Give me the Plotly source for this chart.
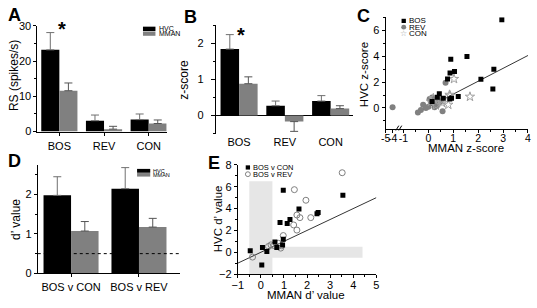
import plotly.graph_objects as go

W, H = 537, 308
FONT = "Liberation Sans, Arial, sans-serif"
BLACK = "#000000"
GRAY = "#808080"
ERRC = "#707070"

# ---------------- data ----------------
# Panel A
a_cats = ["BOS", "REV", "CON"]
a_hvc = [23.2, 3.1, 3.4]
a_hvc_err = [4.9, 1.6, 1.6]
a_mman = [11.6, 0.7, 2.3]
a_mman_err = [2.2, 0.8, 1.0]

# Panel B
b_cats = ["BOS", "REV", "CON"]
b_hvc = [1.84, 0.27, 0.40]
b_hvc_err = [0.40, 0.13, 0.15]
b_mman = [0.88, -0.17, 0.19]
b_mman_err = [0.19, 0.27, 0.08]

# Panel C
c_bos_x = [2.95, 1.55, 0.90, 2.63, 1.05, 0.87, 0.77, 2.11, 2.59, 0.44, 1.20, 0.93, 0.86, 0.36, 0.60, 0.15]
c_bos_y = [6.80, 3.98, 3.75, 2.98, 2.81, 2.69, 2.24, 2.22, 1.47, 1.10, 0.88, 0.75, 0.70, 0.82, 0.75, 0.50]
c_rev_x = [-4.0, -0.42, -0.21, 0.69, 0.57, 0.00, 0.10, 0.20, 0.30, 0.40, -0.10, 0.05, 0.25, 0.35, 0.15, 0.45, -0.30, 0.50]
c_rev_y = [0.05, -0.35, 0.25, 1.94, -0.25, 0.10, 0.40, 0.60, 0.30, 0.50, 0.00, 0.70, 0.05, 0.20, 0.80, 0.45, -0.15, 0.60]
c_con_x = [1.03, 0.85, 1.67, 0.87, 0.80, 0.10, 0.30, 0.50, 0.20, 0.55]
c_con_y = [2.24, 1.02, 0.87, 0.95, 0.25, 0.50, 0.20, 0.60, 0.75, 0.40]
c_fit_x = [-0.5, 4.0]
c_fit_y = [-0.42, 4.05]
c_tick_vals = [-5, -4, -1, 0, 1, 2, 3, 4]

# Panel D
d_cats = ["BOS v CON", "BOS v REV"]
d_hvc = [1.97, 2.14]
d_hvc_err = [0.47, 0.53]
d_mman = [1.07, 1.17]
d_mman_err = [0.24, 0.22]
d_chance = 0.5

# Panel E
e_con_x = [0.97, 3.55, 1.65, 2.43, 2.48, 1.26, 1.14, 0.83, 0.97, 0.61, 0.69, 0.94, 0.07, -0.46, 0.26, 0.04]
e_con_y = [5.67, 5.23, 3.96, 3.52, 3.64, 3.00, 2.64, 2.73, 1.20, 0.94, 0.44, 0.67, 0.44, 0.15, 0.06, -1.17]
e_rev_x = [3.52, 1.45, 1.95, 1.56, 1.69, 2.16, 1.42, 1.56, 0.97, -0.36, 0.33, 0.44, 0.76, 0.86, 0.55, 0.89]
e_rev_y = [7.28, 5.73, 4.76, 3.41, 3.17, 3.17, 2.50, 2.03, 1.53, -0.44, 0.53, 0.68, 0.82, 0.38, 0.62, 0.60]
e_fit_x = [-1, 5]
e_fit_y = [-1, 5]


def PX(x):
    return x / W


def PY(y):
    return 1 - y / H


def c_t(x):
    # broken x axis in panel C
    return x if x >= -1 else -1.437 + (x + 4) * 0.276


def up_err(vals, errs):
    return [e if v >= 0 else 0 for v, e in zip(vals, errs)]


def down_err(vals, errs):
    return [e if v < 0 else 0 for v, e in zip(vals, errs)]


fig = go.Figure()


def add_bars(cats, hvc, hvc_err, mman, mman_err, xa, ya):
    fig.add_trace(go.Bar(x=cats, y=hvc, marker=dict(color=BLACK, line=dict(width=0)),
                         error_y=dict(type="data", symmetric=False, array=up_err(hvc, hvc_err),
                                      arrayminus=down_err(hvc, hvc_err), color=ERRC, thickness=1, width=4),
                         xaxis=xa, yaxis=ya, name="HVC"))
    fig.add_trace(go.Bar(x=cats, y=mman, marker=dict(color=GRAY, line=dict(width=0)),
                         error_y=dict(type="data", symmetric=False, array=up_err(mman, mman_err),
                                      arrayminus=down_err(mman, mman_err), color="#555555", thickness=1, width=4),
                         xaxis=xa, yaxis=ya, name="MMAN"))


add_bars(a_cats, a_hvc, a_hvc_err, a_mman, a_mman_err, "x", "y")
add_bars(b_cats, b_hvc, b_hvc_err, b_mman, b_mman_err, "x2", "y2")
add_bars(d_cats, d_hvc, d_hvc_err, d_mman, d_mman_err, "x4", "y4")

# Panel C scatter
fig.add_trace(go.Scatter(x=[c_t(v) for v in c_fit_x], y=c_fit_y, mode="lines",
                         line=dict(color=BLACK, width=0.8), xaxis="x3", yaxis="y3"))
fig.add_trace(go.Scatter(x=[c_t(v) for v in c_rev_x], y=c_rev_y, mode="markers",
                         marker=dict(symbol="circle", size=6, color=GRAY), xaxis="x3", yaxis="y3"))
fig.add_trace(go.Scatter(x=[c_t(v) for v in c_con_x], y=c_con_y, mode="markers",
                         marker=dict(symbol="star-open", size=7, color="#a0a0a0", line=dict(width=1)),
                         xaxis="x3", yaxis="y3"))
fig.add_trace(go.Scatter(x=[c_t(v) for v in c_bos_x], y=c_bos_y, mode="markers",
                         marker=dict(symbol="square", size=5, color=BLACK), xaxis="x3", yaxis="y3"))

# Panel E scatter
fig.add_trace(go.Scatter(x=e_fit_x, y=e_fit_y, mode="lines",
                         line=dict(color=BLACK, width=0.8), xaxis="x5", yaxis="y5"))
fig.add_trace(go.Scatter(x=e_rev_x, y=e_rev_y, mode="markers",
                         marker=dict(symbol="circle-open", size=6, color=GRAY, line=dict(width=1)),
                         xaxis="x5", yaxis="y5"))
fig.add_trace(go.Scatter(x=e_con_x, y=e_con_y, mode="markers",
                         marker=dict(symbol="square", size=5, color=BLACK), xaxis="x5", yaxis="y5"))

tickfont = dict(family=FONT, size=11, color=BLACK)
base = dict(showline=True, linecolor=BLACK, linewidth=1, ticks="outside", ticklen=3, tickcolor=BLACK,
            tickwidth=1, showgrid=False, zeroline=False, tickfont=tickfont, tickangle=0)
minor_y = lambda d: dict(dtick=d, ticks="outside", ticklen=2, tickcolor=BLACK, showgrid=False)

fig.update_layout(
    width=W, height=H, margin=dict(l=0, r=0, t=0, b=0),
    plot_bgcolor="white", paper_bgcolor="white", showlegend=False,
    barmode="group", bargap=0.19, bargroupgap=0,
    font=dict(family=FONT, color=BLACK),
    xaxis=dict(base, domain=[PX(32), PX(163.3)], anchor="y", range=[-0.49, 2.4], ticklabelstandoff=1),
    yaxis=dict(base, domain=[PY(130.7), PY(20.7)], anchor="x", range=[0, 30], tickvals=[0, 10, 20, 30],
               minor=minor_y(5)),
    xaxis2=dict(base, domain=[PX(213.3), PX(353)], anchor="y2", range=[-0.51, 2.49], showline=False, ticks=""),
    yaxis2=dict(base, domain=[PY(132.7), PY(20)], anchor="x2", range=[-0.5, 2.5], dtick=1,
                zeroline=True, zerolinecolor=BLACK, zerolinewidth=1, minor=minor_y(0.5), ticklen=4,
                ticklabelstandoff=5),
    xaxis3=dict(base, domain=[PX(386), PX(531)], anchor="y3", range=[-1.72, 4.005],
                tickvals=[c_t(v) for v in c_tick_vals], ticktext=[str(v) for v in c_tick_vals],
                ticklabelstandoff=-3, tickfont=dict(family=FONT, size=10.5, color=BLACK),
                minor=dict(tickvals=[-0.5, 0.5, 1.5, 2.5, 3.5], ticks="outside", ticklen=2, tickcolor=BLACK)),
    yaxis3=dict(base, domain=[PY(127.7), PY(11.7)], anchor="x3", range=[-1.6, 7.0], tickvals=[0, 2, 4, 6],
                minor=minor_y(1)),
    xaxis4=dict(base, domain=[PX(32.3), PX(176.7)], anchor="y4", range=[-0.49, 1.6]),
    yaxis4=dict(base, domain=[PY(278.3), PY(165.7)], anchor="x4", range=[0, 2.73], dtick=1,
                minor=minor_y(0.5)),
    xaxis5=dict(base, domain=[PX(235.7), PX(376.7)], anchor="y5", range=[-1, 5], dtick=1,
                minor=minor_y(0.5), ticklabelstandoff=-2),
    yaxis5=dict(base, domain=[PY(279), PY(165.3)], anchor="x5", range=[-2, 8], dtick=2,
                minor=minor_y(1)),
)

shapes = []
# D chance line
shapes.append(dict(type="line", xref="x4 domain", yref="y4", x0=0, x1=1, y0=d_chance, y1=d_chance,
                   line=dict(color=BLACK, width=1, dash="dot")))
# E shaded bands
shapes.append(dict(type="rect", xref="x5", yref="y5", x0=-0.5, x1=0.5, y0=-2, y1=6.5,
                   fillcolor="#e6e6e6", line=dict(width=0), layer="below"))
shapes.append(dict(type="rect", xref="x5", yref="y5", x0=-0.5, x1=4.4, y0=-0.5, y1=0.5,
                   fillcolor="#e6e6e6", line=dict(width=0), layer="below"))
# legends A and D (boxes)
for (x0, x1, y0, y1, col) in [(139.3, 152, 21.5, 26, BLACK), (139.3, 152, 26.5, 31, GRAY),
                               (133.3, 146.7, 169.5, 173.5, BLACK), (133.3, 146.7, 173.8, 177.5, GRAY)]:
    shapes.append(dict(type="rect", xref="paper", yref="paper", x0=PX(x0), x1=PX(x1), y0=PY(y1), y1=PY(y0),
                       fillcolor=col, line=dict(width=0)))
# legend C/E markers
shapes.append(dict(type="rect", xref="paper", yref="paper", x0=PX(402.3), x1=PX(406.7), y0=PY(17.7), y1=PY(13.3),
                   fillcolor=BLACK, line=dict(width=0)))
shapes.append(dict(type="circle", xref="paper", yref="paper", x0=PX(402), x1=PX(407), y0=PY(24.5), y1=PY(19.5),
                   fillcolor=GRAY, line=dict(width=0)))
shapes.append(dict(type="rect", xref="paper", yref="paper", x0=PX(243.8), x1=PX(248.2), y0=PY(170.2), y1=PY(165.8),
                   fillcolor=BLACK, line=dict(width=0)))
shapes.append(dict(type="circle", xref="paper", yref="paper", x0=PX(243.5), x1=PX(248.5), y0=PY(177.5), y1=PY(172.5),
                   fillcolor="rgba(0,0,0,0)", line=dict(color=GRAY, width=1)))
# axis break marks in C
for x0 in (396.5, 399.5):
    shapes.append(dict(type="line", xref="paper", yref="paper", x0=PX(x0), x1=PX(x0 + 3), y0=PY(129.5), y1=PY(124.5),
                       line=dict(color=BLACK, width=1)))
fig.update_layout(shapes=shapes)

ann = []


def txt(text, x, y, size=11, angle=0, xanchor="center", color=BLACK, bold=False):
    ann.append(dict(text=("<b>%s</b>" % text) if bold else text, x=PX(x), y=PY(y), xref="paper", yref="paper",
                    showarrow=False, textangle=angle, xanchor=xanchor, yanchor="middle",
                    font=dict(family=FONT, size=size, color=color)))


# panel labels
txt("A", 8.5, 9.5, 18, bold=True)
txt("B", 187.5, 11, 18, bold=True)
txt("C", 364, 10, 18, bold=True)
txt("D", 9, 161.5, 18, bold=True)
txt("E", 211.7, 163, 18, bold=True)
# axis titles
txt("RS (spikes/s)", 8, 72, 12, angle=-90)
txt("z-score", 181, 76.7, 12, angle=-90)
txt("HVC z-score", 364, 71, 11.5, angle=-90)
txt("MMAN z-score", 468, 148, 11.5)
txt("d’ value", 10, 221.7, 12, angle=-90)
txt("HVC d’ value", 215, 221.5, 11.5, angle=-90)
txt("MMAN d’ value", 305, 300.5, 11.5)
# legends text
txt("HVC", 153.3, 23.7, 7, xanchor="left")
txt("MMAN", 153.3, 28.9, 7, xanchor="left")
txt("HVC", 147.5, 171.4, 5.5, xanchor="left")
txt("MMAN", 147.5, 175.6, 5.5, xanchor="left")
txt("BOS", 408, 15.5, 8, xanchor="left")
txt("REV", 408, 22, 8, xanchor="left")
txt("CON", 408, 28.7, 8, xanchor="left")
txt("☆", 404.5, 29, 8, color="#a0a0a0")
txt("BOS v CON", 249.5, 168, 7.5, xanchor="left")
txt("BOS v REV", 249.5, 175, 7.5, xanchor="left")
fig.update_layout(annotations=ann)

# significance asterisks
fig.add_annotation(text="<b>*</b>", x=0.06, y=29.0, xref="x", yref="y", showarrow=False,
                   font=dict(family=FONT, size=20, color=BLACK), yanchor="middle")
fig.add_annotation(text="<b>*</b>", x=0.04, y=2.22, xref="x2", yref="y2", showarrow=False,
                   font=dict(family=FONT, size=20, color=BLACK), yanchor="middle")

fig.write_html("out.html", config={"displayModeBar": False},
               post_script="document.body.style.margin='0px';")
